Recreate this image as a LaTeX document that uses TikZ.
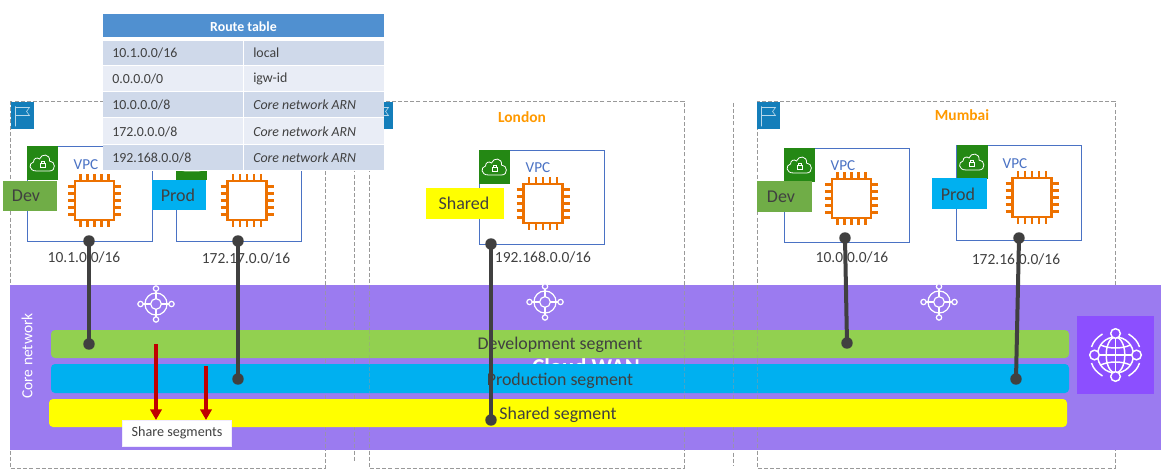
\documentclass[tikz,border=0pt]{standalone}
\usepackage{fontspec}
\setmainfont{Carlito}
\usetikzlibrary{fit,arrows.meta}
\definecolor{txt}{HTML}{404040}
\definecolor{purpleb}{HTML}{9B7BF0}
\definecolor{wanicon}{HTML}{8C4FFF}
\definecolor{segg}{HTML}{92D050}
\definecolor{segb}{HTML}{00B0F0}
\definecolor{segy}{HTML}{FFFF00}
\definecolor{devg}{HTML}{70AD47}
\definecolor{vpcg}{HTML}{248814}
\definecolor{vpcb}{HTML}{4A72C4}
\definecolor{flagb}{HTML}{147EBA}
\definecolor{chipo}{HTML}{ED7100}
\definecolor{rowa}{HTML}{CFD9EA}
\definecolor{rowb}{HTML}{E9EDF6}
\definecolor{hdr}{HTML}{5090D0}
\definecolor{orng}{HTML}{FF9900}
\definecolor{redarr}{HTML}{C00000}
\definecolor{dashc}{HTML}{999999}
\newcommand\bx[6][]{\path (#3,#4) coordinate (#2-a) (#5,#6) coordinate (#2-b);
  \node[fit=(#2-a)(#2-b),inner sep=0pt,outer sep=0pt,#1] (#2) {};}
\tikzset{
  region/.style={draw=dashc,line width=.7pt,dash pattern=on 3pt off 1.6pt},
  regionover/.style={draw=dashc,line width=.6pt,dash pattern=on 3pt off 1.6pt,opacity=.75},
  vpcbox/.style={draw=vpcb,line width=.7pt,fill=white},
  band/.style={rounded corners=3pt},
  bandtext/.style={font=\fontsize{13.4}{15}\selectfont,text=txt,inner sep=0pt},
  tag/.style={font=\fontsize{13.5}{15}\selectfont,text=txt,inner sep=0pt},
  lbl/.style={font=\fontsize{11.6}{13}\selectfont,text=txt,inner sep=0pt},
  vpclbl/.style={font=\fontsize{11.4}{13}\selectfont,text=vpcb,inner sep=0pt},
  city/.style={font=\bfseries\fontsize{11.6}{13}\selectfont,text=orng,inner sep=0pt},
  cell/.style={font=\fontsize{10.4}{12}\selectfont,text=txt,inner sep=0pt,anchor=west},
  dot/.style={circle,fill=txt,minimum size=8.6pt,inner sep=0pt,outer sep=0pt},
  wire/.style={draw=txt,line width=3pt},
  redline/.style={draw=redarr,line width=2.6pt,-{Triangle[width=8.5pt,length=8pt]},shorten >=0pt},
  chip/.pic={
    \foreach \k in {-14,-7,0,7,14}{
      \draw[chipo,line width=1.7pt] (\k,-26.5)--(\k,-20) (\k,20)--(\k,26.5) (-26.5,\k)--(-20,\k) (20,\k)--(26.5,\k);}
    \draw[chipo,line width=2pt,fill=white] (-19.5,-19.5) rectangle (19.5,19.5);
  },
  vpcicon/.pic={
    \fill[vpcg] (-15.5,-16.5) rectangle (15.5,16.5);
    \draw[white,line width=.6pt] (-6,8) .. controls (-14,8) and (-14,0) .. (-9,-1)
      .. controls (-9,-5) and (-5,-6) .. (-3,-4) .. controls (-1,-10) and (8,-9) .. (7,-2)
      .. controls (13,-2) and (14,8) .. (7,8) -- cycle;
    \draw[white,line width=.6pt] (-2.5,0) rectangle (2.5,4.5) (-1.5,0) -- (-1.5,-2) -- (1.5,-2) -- (1.5,0);
  },
  flagicon/.pic={
    \fill[flagb] (-11.5,-13.5) rectangle (11.5,13.5);
    \draw[white!70!flagb,line width=.45pt] (-7,-9) -- (-7,11) (-7,-8) -- (7,-8) -- (4,-4) -- (7,0) -- (-7,0);
  },
  coreicon/.pic={
    \draw[white,line width=.9pt] (0,0) circle[radius=4pt] (0,0) circle[radius=8.3pt];
    \draw[white,line width=.9pt] (-16,0)--(-5,0) (5,0)--(16,0) (0,-16)--(0,-5) (0,5)--(0,16);
    \foreach \p in {(-15.5,0),(15.5,0),(0,-15.5),(0,15.5)}{\draw[white,line width=.9pt,fill=purpleb] \p circle[radius=2pt];}
  },
  wanglobe/.pic={
    \draw[white,line width=1.1pt] (0,0) circle[radius=13.5pt];
    \draw[white,line width=1.1pt] (0,0) ellipse[x radius=7pt,y radius=13.5pt];
    \draw[white,line width=1.1pt] (0,-18)--(0,18) (-18,0)--(18,0);
    \draw[white,line width=1.1pt] (-15,-10) .. controls (-6,-6) and (6,-6) .. (15,-10) (-15,10) .. controls (-6,6) and (6,6) .. (15,10);
    \draw[white,line width=1.1pt] (-13,-21) .. controls (-19,-17) and (-22,-14) .. (-24,-8);
    \draw[white,line width=1.1pt] (13,-21) .. controls (19,-17) and (22,-14) .. (24,-8);
    \draw[white,line width=1.1pt] (-13,21) .. controls (-19,17) and (-22,14) .. (-24,8);
    \draw[white,line width=1.1pt] (13,21) .. controls (19,17) and (22,14) .. (24,8);
    \foreach \p in {(-21,0),(21,0),(0,-21.5),(0,21.5)}{\draw[white,line width=1.1pt,fill=wanicon] \p circle[radius=3.6pt];}
  },
}
\begin{document}
\begin{tikzpicture}[x=.75pt,y=-.75pt]
\useasboundingbox (0,0) rectangle (1166,474);
% regions
\draw[region] (10,101) rectangle (325,468);
\coordinate (m1) at (354,101); \coordinate (m2) at (354,461);
\draw[region] (m1) -- (m2);
\coordinate (m3) at (733,103); \coordinate (m4) at (733,465);
\draw[region] (m3) -- (m4);
\draw[region] (369,101) rectangle (684,468);
\draw[region] (757,101) rectangle (1115,468);
\node[city] (london) at (522,117) {London};
\node[city] (mumbai) at (962,115) {Mumbai};
\pic at (22.5,115.5) {flagicon};
\pic at (381.5,115.5) {flagicon};
\pic at (768.5,115.5) {flagicon};
% VPC boxes
\draw[vpcbox] (27,146) rectangle (152,241);
\draw[vpcbox] (176,146) rectangle (301,241);
\draw[vpcbox] (479,150) rectangle (604,244);
\draw[vpcbox] (784,148) rectangle (909,242);
\draw[vpcbox] (956,145) rectangle (1081,240);
\pic at (42.5,163) {vpcicon};
\pic at (191.5,163) {vpcicon};
\pic at (494.5,167) {vpcicon};
\pic at (799.5,165) {vpcicon};
\pic at (972,162) {vpcicon};
\node[vpclbl] (v1) at (86,165) {VPC};
\node[vpclbl] (v2) at (243,165) {VPC};
\node[vpclbl] (v3) at (538,168) {VPC};
\node[vpclbl] (v4) at (843,166) {VPC};
\node[vpclbl] (v5) at (1015,164) {VPC};
\pic at (94.5,200.5) {chip};
\pic at (247,200.5) {chip};
\pic at (543,203.5) {chip};
\pic at (851.5,198.5) {chip};
\pic at (1032,197.5) {chip};
\bx[fill=devg]{t1}{3}{181}{57}{211}
\bx[fill=segb]{t2}{152}{180}{206}{210}
\bx[fill=segy]{t3}{426}{188}{504}{219}
\bx[fill=devg]{t4}{757}{181}{812}{212}
\bx[fill=segb]{t5}{932}{178}{987}{209}
\node[tag] (t1t) at (26,196) {Dev};
\node[tag] (t2t) at (178,195) {Prod};
\node[tag] (t3t) at (464,203) {Shared};
\node[tag] (t4t) at (781,197) {Dev};
\node[tag] (t5t) at (958,194) {Prod};
% cidr labels
\node[lbl] (c1) at (84,257) {10.1.0.0/16};
\node[lbl] (c2) at (246,258) {172.17.0.0/16};
\node[lbl] (c3) at (543,257) {192.168.0.0/16};
\node[lbl] (c4) at (852,257) {10.0.0.0/16};
\node[lbl] (c5) at (1016,259) {172.16.0.0/16};
% core network
\fill[purpleb] (10,285) rectangle (1161,450);
\draw[regionover] (369,285) -- (369,450) (684,285) -- (684,450) (733,285) -- (733,450) (325,285) -- (325,450) (354,285) -- (354,450) (757,285) -- (757,450);
\node[font=\bfseries\fontsize{17}{19}\selectfont,text=white,inner sep=0pt] (wan) at (586,367) {Cloud WAN};
\node[rotate=90,text=white,font=\fontsize{11.6}{13}\selectfont,inner sep=0pt] (core) at (27,356) {Core network};
\pic at (156,304) {coreicon};
\pic at (545,302) {coreicon};
\pic at (939,302) {coreicon};
\bx[fill=segg,band]{sg}{51}{330}{1069}{358}
\bx[fill=segb,band]{sb}{51}{364}{1069}{393}
\draw[regionover,opacity=.45] (369,330)--(369,393) (684,330)--(684,393) (733,330)--(733,393) (757,330)--(757,393);
\bx[fill=segy,band]{sy}{49}{399}{1067}{427}
\node[bandtext] (sgt) at (560,345) {Development segment};
\node[bandtext] (sbt) at (560,381) {Production segment};
\node[bandtext] (syt) at (558,415) {Shared segment};
\bx[fill=wanicon]{wi}{1077}{316}{1154}{394}
\pic at (wi) {wanglobe};
% connectors
\node[dot] (a1) at (89,241) {}; \node[dot] (b1) at (89,344) {};
\node[dot] (a2) at (238,241) {}; \node[dot] (b2) at (238,379) {};
\node[dot] (a3) at (491,244) {}; \node[dot] (b3) at (491,420) {};
\node[dot] (a4) at (845,238) {}; \node[dot] (b4) at (847,343) {};
\node[dot] (a5) at (1019,238) {}; \node[dot] (b5) at (1016,379) {};
\draw[wire] (a1.center)--(b1.center);
\draw[wire] (a2.center)--(b2.center);
\draw[wire] (a3.center)--(b3.center);
\draw[wire] (a4.center)--(b4.center);
\draw[wire] (a5.center)--(b5.center);
% share
\bx[fill=white,draw=white!85!purpleb,line width=.4pt]{sh}{122}{420}{231}{446}
\node[font=\fontsize{10.6}{12}\selectfont,text=txt,inner sep=0pt] (sht) at (177,433) {Share segments};
\coordinate (r1s) at (156,344); \coordinate (r1e) at (156,420);
\coordinate (r2s) at (206,366); \coordinate (r2e) at (206,420);
\draw[redline] (r1s)--(r1e);
\draw[redline] (r2s)--(r2e);
% route table
\fill[white] (103,37) rectangle (384,171);
\bx[fill=hdr]{h}{103}{14}{384}{37}
\node[text=white,inner sep=0pt,font=\bfseries\fontsize{10.4}{12}\selectfont] (ht) at (243.5,26.5) {Route table};
\fill[rowa] (103,41) rectangle (242.5,65);  \fill[rowa] (244,41) rectangle (384,65);
\fill[rowb] (103,66.5) rectangle (242.5,91);  \fill[rowb] (244,66.5) rectangle (384,91);
\fill[rowa] (103,92.5) rectangle (242.5,117);  \fill[rowa] (244,92.5) rectangle (384,117);
\fill[rowb] (103,118.5) rectangle (242.5,144);  \fill[rowb] (244,118.5) rectangle (384,144);
\fill[rowa] (103,145.5) rectangle (242.5,170);  \fill[rowa] (244,145.5) rectangle (384,170);
\node[cell] (r1a) at (112,53) {10.1.0.0/16};
\node[cell] (r1b) at (253,53) {local};
\node[cell] (r2a) at (112,79) {0.0.0.0/0};
\node[cell] (r2b) at (253,79) {igw-id};
\node[cell] (r3a) at (112,105) {10.0.0.0/8};
\node[cell] (r3b) at (253,105) {\itshape Core network ARN};
\node[cell] (r4a) at (112,131.5) {172.0.0.0/8};
\node[cell] (r4b) at (253,131.5) {\itshape Core network ARN};
\node[cell] (r5a) at (112,157.5) {192.168.0.0/8};
\node[cell] (r5b) at (253,157.5) {\itshape Core network ARN};
\end{tikzpicture}
\end{document}
